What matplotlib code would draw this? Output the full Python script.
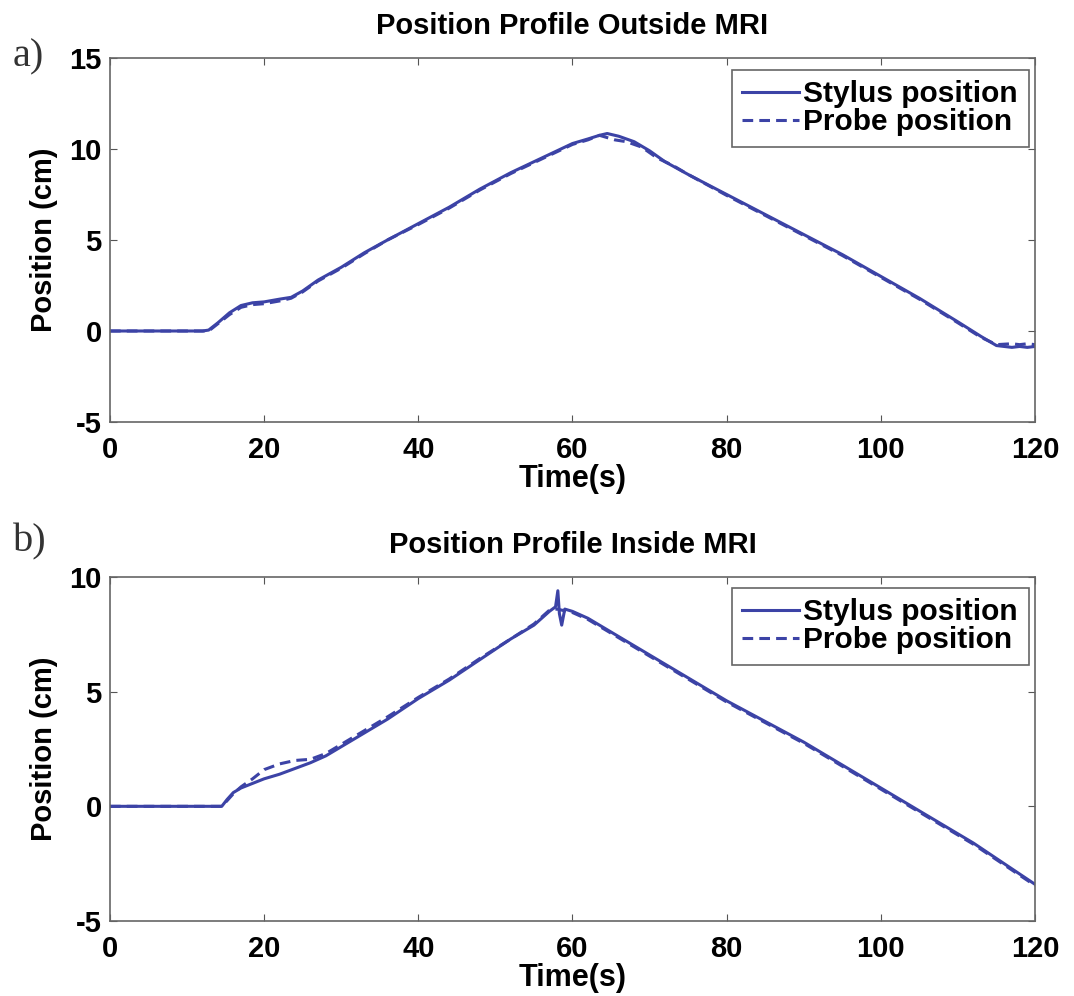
import matplotlib
matplotlib.use('Agg')
import matplotlib.pyplot as plt

# Datos (posición en cm vs tiempo en s)
# a) Fuera del MRI
t_out_stylus = [0, 12, 12.8, 14, 15.5, 17, 18.5, 20, 22, 23.5, 25, 27, 30, 33, 36, 40,
                44, 48, 52, 56, 60, 62, 63.5, 64.5, 66, 68, 70, 72, 75, 80, 85, 90,
                95, 100, 105, 110, 113, 115, 117, 118, 119, 120]
y_out_stylus = [0, 0, 0.05, 0.45, 1.0, 1.4, 1.55, 1.6, 1.75, 1.85, 2.2, 2.8, 3.5, 4.3, 5.0, 5.9,
                6.8, 7.8, 8.7, 9.5, 10.3, 10.55, 10.75, 10.85, 10.7, 10.4, 9.9, 9.3, 8.6, 7.5, 6.4, 5.3,
                4.2, 3.0, 1.8, 0.5, -0.3, -0.8, -0.9, -0.85, -0.9, -0.85]
t_out_probe = [0, 12, 12.8, 14, 15.5, 17, 18.5, 20, 22, 23.5, 25, 27, 30, 33, 36, 40,
               44, 48, 52, 56, 60, 62, 63.5, 65.5, 67, 69, 71, 73, 75, 80, 85, 90,
               95, 100, 105, 110, 113, 115, 117, 118, 119, 120]
y_out_probe = [0, 0, 0.0, 0.4, 0.9, 1.3, 1.45, 1.5, 1.65, 1.8, 2.15, 2.75, 3.45, 4.25, 5.0, 5.85,
               6.75, 7.75, 8.65, 9.45, 10.25, 10.5, 10.75, 10.5, 10.4, 10.1, 9.5, 9.1, 8.6, 7.45, 6.35, 5.25,
               4.15, 2.95, 1.75, 0.45, -0.35, -0.75, -0.7, -0.75, -0.7, -0.75]

# b) Dentro del MRI
t_in_stylus = [0, 14.5, 15.2, 16, 17, 18.5, 20, 22, 24, 26, 28, 30, 33, 36, 40, 44,
               48, 52, 55, 57, 57.8, 58.1, 58.3, 58.6, 59, 60, 62, 65, 70, 75, 80, 85,
               90, 95, 100, 104, 108, 112, 116, 120]
y_in_stylus = [0, 0, 0.3, 0.6, 0.8, 1.0, 1.2, 1.4, 1.65, 1.9, 2.2, 2.6, 3.2, 3.8, 4.7, 5.5,
               6.4, 7.3, 7.9, 8.5, 8.7, 9.4, 8.4, 7.9, 8.6, 8.5, 8.2, 7.6, 6.6, 5.6, 4.6, 3.7,
               2.8, 1.8, 0.8, 0.0, -0.8, -1.6, -2.5, -3.4]
t_in_probe = [0, 14.5, 15.2, 16, 17, 18.5, 20, 22, 24, 26, 28, 30, 33, 36, 40, 44,
              48, 52, 55, 57, 58, 60, 62, 65, 70, 75, 80, 85,
              90, 95, 100, 104, 108, 112, 116, 120]
y_in_probe = [0, 0, 0.25, 0.55, 0.85, 1.2, 1.6, 1.85, 2.0, 2.05, 2.3, 2.7, 3.3, 3.9, 4.75, 5.55,
              6.45, 7.3, 7.95, 8.55, 8.6, 8.45, 8.15, 7.55, 6.55, 5.55, 4.55, 3.65,
              2.75, 1.75, 0.75, -0.05, -0.85, -1.65, -2.55, -3.45]

x_ticks = [0, 20, 40, 60, 80, 100, 120]
titles = ['Position Profile Outside MRI', 'Position Profile Inside MRI']
panel_labels = ['a)', 'b)']

line_color = '#3c43a6'
plt.rcParams['font.family'] = ['Liberation Sans', 'DejaVu Sans']
plt.rcParams['font.weight'] = 'bold'
plt.rcParams['axes.unicode_minus'] = False

fig = plt.figure(figsize=(10.74, 9.96), dpi=100)
ax1 = fig.add_axes([0.1024, 0.5763, 0.8613, 0.3655])
ax2 = fig.add_axes([0.1024, 0.0753, 0.8613, 0.3454])

paneles = [
    (ax1, t_out_stylus, y_out_stylus, t_out_probe, y_out_probe, (-5, 15), [-5, 0, 5, 10, 15]),
    (ax2, t_in_stylus, y_in_stylus, t_in_probe, y_in_probe, (-5, 10), [-5, 0, 5, 10]),
]

for i, (ax, ts, ys, tp, yp, ylim, yticks) in enumerate(paneles):
    ax.plot(ts, ys, color=line_color, lw=2.2, label='Stylus position')
    ax.plot(tp, yp, color=line_color, lw=2.2, ls=(0, (3.5, 2)), label='Probe position')
    ax.set_xlim(0, 120)
    ax.set_ylim(*ylim)
    ax.set_xticks(x_ticks)
    ax.set_yticks(yticks)
    ax.tick_params(direction='in', length=5, top=True, right=True,
                   labelsize=21, color='#555555', pad=6)
    ax.tick_params(axis='x', pad=10)
    for s in ax.spines.values():
        s.set_color('#666666')
        s.set_linewidth(1.2)
    ax.set_xlabel('Time(s)', fontsize=22, fontweight='bold', labelpad=0)
    ax.set_ylabel('Position (cm)', fontsize=21, fontweight='bold', labelpad=8)
    ax.set_title(titles[i], fontsize=21, fontweight='bold', pad=17)
    leg = ax.legend(loc='upper right', bbox_to_anchor=(0.993, 0.968), borderaxespad=0,
                    fontsize=21.5, handlelength=1.9, handletextpad=0.15,
                    fancybox=False, framealpha=1, labelspacing=0.0, borderpad=0.35)
    leg.get_frame().set_edgecolor('#666666')
    leg.get_frame().set_linewidth(1.2)

fig.text(0.012, 0.943, panel_labels[0], fontsize=29, family='Liberation Serif',
         fontweight='normal', color='#333333', va='center')
fig.text(0.012, 0.456, panel_labels[1], fontsize=29, family='Liberation Serif',
         fontweight='normal', color='#333333', va='center')

fig.savefig('out.png', dpi=100)
plt.close(fig)
